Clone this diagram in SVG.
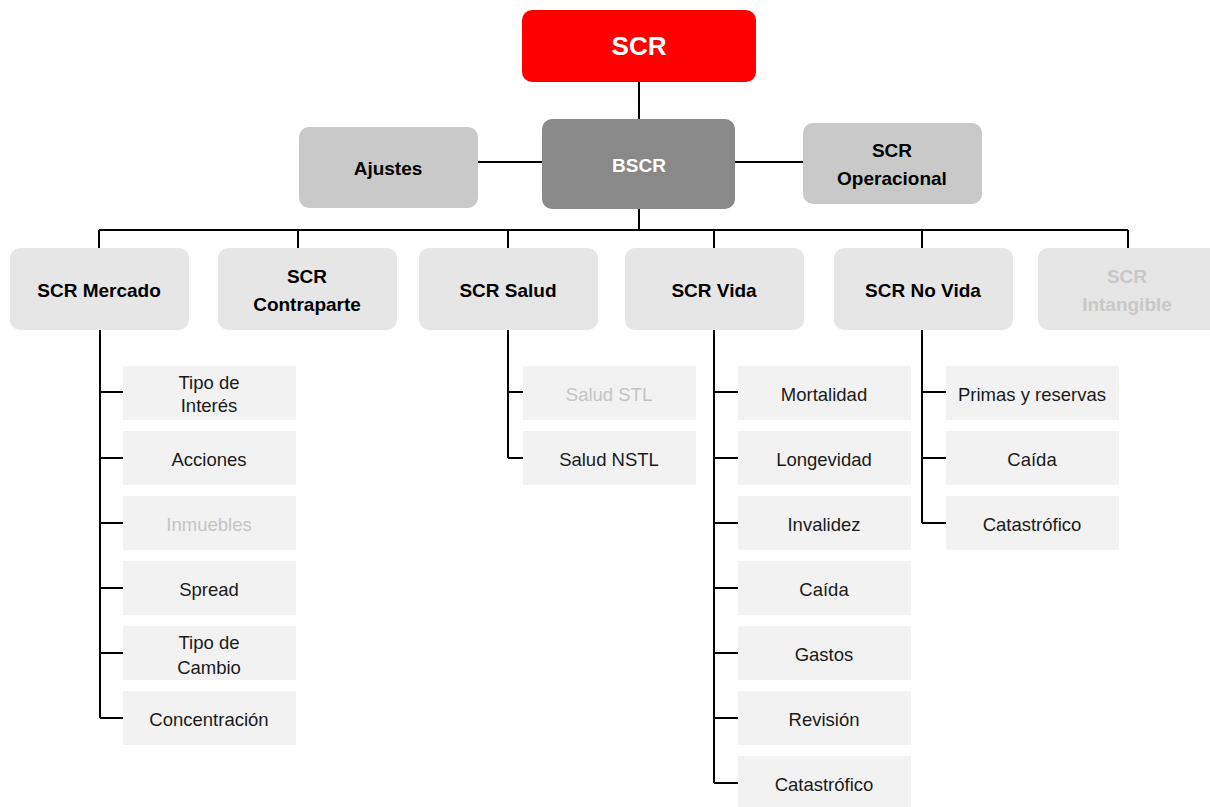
<svg xmlns="http://www.w3.org/2000/svg" width="1210" height="807" viewBox="0 0 1210 807">
<style>
text{font-family:"Liberation Sans",Arial,sans-serif;text-anchor:middle;dominant-baseline:central}
.h{font-weight:bold;font-size:19px;fill:#000}
.c{font-size:18.5px;fill:#1a1a1a}
.lvl2{fill:#E6E6E6}
.leaf{fill:#F2F2F2}
.dim{fill:#C4C4C4}
.conn{stroke:#000;stroke-width:2;fill:none}
</style>
<rect width="1210" height="807" fill="#fff"/>
<g id="connectors" class="conn">
<path d="M639 82V119M478 162H542M735 162H803M639 209V230M99 230H1128M99 230V248M298 230V248M508 230V248M714 230V248M922 230V248M1128 230V248"/>
<path d="M100 330V718M100 392H123M100 458H123M100 523H123M100 588H123M100 653H123M100 718H123"/>
<path d="M508 330V458M508 392H523M508 458H523"/>
<path d="M714 330V783M714 392H738M714 458H738M714 523H738M714 588H738M714 653H738M714 718H738M714 783H738"/>
<path d="M922 330V523M922 392H946M922 458H946M922 523H946"/>
</g>
<g id="scr"><rect x="522" y="10" width="234" height="72" rx="10" fill="#FF0000"/><text x="639" y="46" style="font-weight:bold;font-size:26px;fill:#fff">SCR</text></g>
<g id="bscr"><rect x="542" y="119" width="193" height="90" rx="10" fill="#898989"/><text x="639" y="165" style="font-weight:bold;font-size:19px;fill:#fff">BSCR</text></g>
<g id="ajustes"><rect x="299" y="127" width="179" height="81" rx="10" fill="#C9C9C9"/><text x="388" y="168" class="h">Ajustes</text></g>
<g id="operacional"><rect x="803" y="123" width="179" height="81" rx="10" fill="#C9C9C9"/><text x="892" y="150" class="h">SCR</text><text x="892" y="178" class="h">Operacional</text></g>
<g id="mercado"><rect x="10" y="248" width="179" height="82" rx="10" class="lvl2"/><text x="99" y="290" class="h">SCR Mercado</text></g>
<g id="contraparte"><rect x="218" y="248" width="179" height="82" rx="10" class="lvl2"/><text x="307" y="276" class="h">SCR</text><text x="307" y="304" class="h">Contraparte</text></g>
<g id="salud"><rect x="419" y="248" width="179" height="82" rx="10" class="lvl2"/><text x="508" y="290" class="h">SCR Salud</text></g>
<g id="vida"><rect x="625" y="248" width="179" height="82" rx="10" class="lvl2"/><text x="714" y="290" class="h">SCR Vida</text></g>
<g id="novida"><rect x="834" y="248" width="179" height="82" rx="10" class="lvl2"/><text x="923" y="290" class="h">SCR No Vida</text></g>
<g id="intangible"><rect x="1038" y="248" width="182" height="82" rx="10" class="lvl2"/><text x="1127" y="276" class="h" style="fill:#C8C8C8">SCR</text><text x="1127" y="304" class="h" style="fill:#C8C8C8">Intangible</text></g>
<g id="m1"><rect x="123" y="366" width="173" height="54" class="leaf"/><text x="209" y="382" class="c">Tipo de</text><text x="209" y="405" class="c">Interés</text></g>
<g id="m2"><rect x="123" y="431" width="173" height="54" class="leaf"/><text x="209" y="459" class="c">Acciones</text></g>
<g id="m3"><rect x="123" y="496" width="173" height="54" class="leaf"/><text x="209" y="524" class="c dim">Inmuebles</text></g>
<g id="m4"><rect x="123" y="561" width="173" height="54" class="leaf"/><text x="209" y="589" class="c">Spread</text></g>
<g id="m5"><rect x="123" y="626" width="173" height="54" class="leaf"/><text x="209" y="642" class="c">Tipo de</text><text x="209" y="667" class="c">Cambio</text></g>
<g id="m6"><rect x="123" y="691" width="173" height="54" class="leaf"/><text x="209" y="719" class="c">Concentración</text></g>
<g id="s1"><rect x="523" y="366" width="173" height="54" class="leaf"/><text x="609" y="394" class="c dim">Salud STL</text></g>
<g id="s2"><rect x="523" y="431" width="173" height="54" class="leaf"/><text x="609" y="459" class="c">Salud NSTL</text></g>
<g id="v1"><rect x="738" y="366" width="173" height="54" class="leaf"/><text x="824" y="394" class="c">Mortalidad</text></g>
<g id="v2"><rect x="738" y="431" width="173" height="54" class="leaf"/><text x="824" y="459" class="c">Longevidad</text></g>
<g id="v3"><rect x="738" y="496" width="173" height="54" class="leaf"/><text x="824" y="524" class="c">Invalidez</text></g>
<g id="v4"><rect x="738" y="561" width="173" height="54" class="leaf"/><text x="824" y="589" class="c">Caída</text></g>
<g id="v5"><rect x="738" y="626" width="173" height="54" class="leaf"/><text x="824" y="654" class="c">Gastos</text></g>
<g id="v6"><rect x="738" y="691" width="173" height="54" class="leaf"/><text x="824" y="719" class="c">Revisión</text></g>
<g id="v7"><rect x="738" y="756" width="173" height="51" class="leaf"/><text x="824" y="784" class="c">Catastrófico</text></g>
<g id="n1"><rect x="946" y="366" width="173" height="54" class="leaf"/><text x="1032" y="394" class="c">Primas y reservas</text></g>
<g id="n2"><rect x="946" y="431" width="173" height="54" class="leaf"/><text x="1032" y="459" class="c">Caída</text></g>
<g id="n3"><rect x="946" y="496" width="173" height="54" class="leaf"/><text x="1032" y="524" class="c">Catastrófico</text></g>
</svg>
